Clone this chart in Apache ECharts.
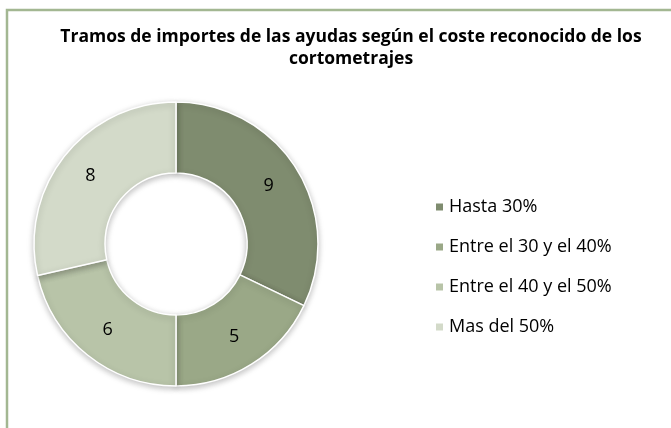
<!DOCTYPE html>
<html>
<head>
<meta charset="utf-8">
<script src="https://cdn.jsdelivr.net/npm/echarts@6/dist/echarts.min.js"></script>
<style>
  html, body { margin: 0; padding: 0; background: #fff; }
  #chart { width: 671px; height: 428px; }
</style>
</head>
<body>
<div id="chart"></div>
<script>
'use strict';
var titleText = 'Tramos de importes de las ayudas según el coste reconocido de los\ncortometrajes';
var categories = ['Hasta 30%', 'Entre el 30 y el 40%', 'Entre el 40 y el 50%', 'Mas del 50%'];
var values = [9, 5, 6, 8];
var colors = ['#7f8c6f', '#9aa887', '#b8c4a8', '#d3dac9'];

var chart = echarts.init(document.getElementById('chart'));

var data = [];
for (var i = 0; i < categories.length; i++) {
  data.push({ name: categories[i], value: values[i], itemStyle: { color: colors[i] } });
}

chart.setOption({
  animation: false,
  graphic: [{
    type: 'rect',
    shape: { x: 7, y: 10, width: 700, height: 450 },
    style: { fill: 'none', stroke: '#a3b792', lineWidth: 2.5 },
    silent: true
  }],
  title: {
    text: titleText,
    left: 346,
    textAlign: 'center',
    top: 21,
    textStyle: {
      fontFamily: 'Open Sans',
      fontSize: 17.5,
      fontWeight: 'bold',
      color: '#000',
      lineHeight: 22
    }
  },
  legend: {
    orient: 'vertical',
    left: 429,
    top: 191,
    itemWidth: 9,
    itemHeight: 9,
    itemGap: 18,
    icon: 'rect',
    data: categories,
    textStyle: { fontFamily: 'Open Sans', fontSize: 18, color: '#000', lineHeight: 22 }
  },
  series: [{
    type: 'pie',
    center: [176, 244],
    radius: [71, 142],
    startAngle: 90,
    clockwise: true,
    data: data,
    itemStyle: {
      borderColor: '#fff',
      borderWidth: 1.5,
      shadowBlur: 6,
      shadowOffsetY: 2,
      shadowColor: 'rgba(0,0,0,0.25)'
    },
    label: {
      show: true,
      position: 'inside',
      formatter: '{c}',
      fontFamily: 'Open Sans',
      fontSize: 18,
      color: '#000'
    },
    labelLine: { show: false },
    emphasis: { disabled: true }
  }]
});
</script>
</body>
</html>
